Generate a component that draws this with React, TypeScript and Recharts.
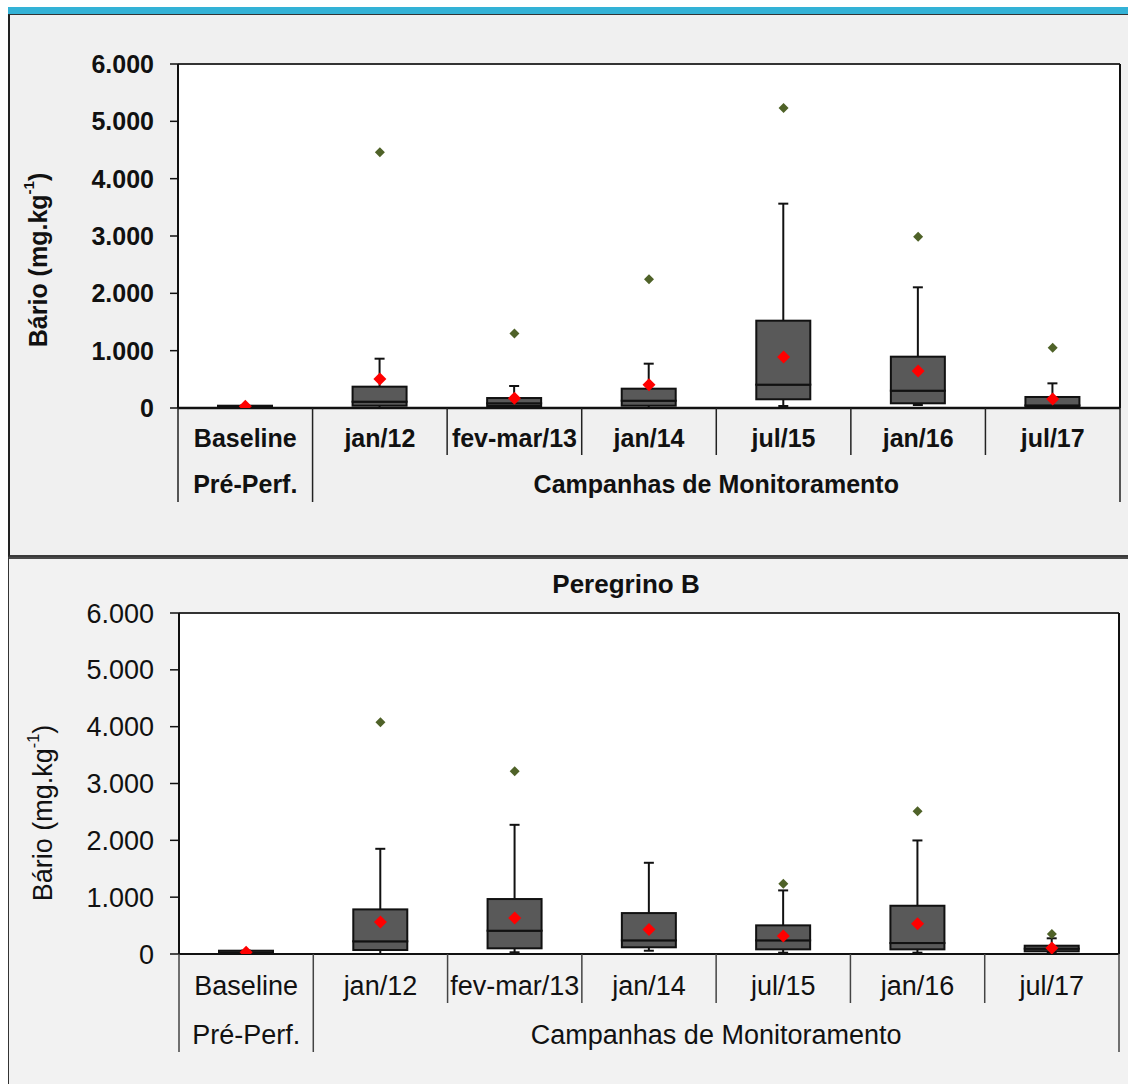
import { ComposedChart, Bar, Scatter, XAxis, YAxis, CartesianGrid } from 'recharts'

const categories = ['Baseline', 'jan/12', 'fev-mar/13', 'jan/14', 'jul/15', 'jan/16', 'jul/17']
const groups = [
  { label: 'Pré-Perf.', from: 0, to: 0 },
  { label: 'Campanhas de Monitoramento', from: 1, to: 6 },
]
const yTicks = [0, 1000, 2000, 3000, 4000, 5000, 6000]
const yTitle = 'Bário (mg.kg'
const yTitleSup = '-1'
const lowerTitle = 'Peregrino B'

// upper panel (mg/kg)
const topMin = [0, 0, 0, 0, 35, 52, 0]
const topQ1 = [5, 40, 35, 40, 152, 82, 15]
const topMedian = [15, 110, 82, 127, 407, 302, 45]
const topQ3 = [40, 372, 174, 337, 1523, 895, 192]
const topMax = [40, 860, 384, 773, 3564, 2105, 430]
const topMean = [30, 506, 169, 407, 890, 645, 157]
const topOutlier = [null, 4460, 1300, 2245, 5233, 2988, 1052]

// lower panel (mg/kg)
const botMin = [0, 0, 30, 58, 23, 23, 20]
const botQ1 = [5, 70, 100, 118, 82, 82, 47]
const botMedian = [20, 223, 410, 240, 240, 193, 93]
const botQ3 = [58, 785, 967, 720, 504, 849, 146]
const botMax = [58, 1851, 2273, 1605, 1119, 1998, 276]
const botMean = [30, 562, 633, 433, 316, 533, 105]
const botOutlier = [null, 4077, 3216, null, 1236, 2513, 351]

const FONT = "'Liberation Sans', Arial, Helvetica, sans-serif"
const BOX_FILL = '#595959'
const INK = '#111'

function buildRows(min: number[], q1: number[], med: number[], q3: number[], max: number[], mean: number[], out: (number | null)[]) {
  return categories.map((cat, i) => ({
    cat,
    base: min[i],
    lowWhisker: q1[i] - min[i],
    lowBox: med[i] - q1[i],
    highBox: q3[i] - med[i],
    highWhisker: max[i] - q3[i],
    mean: mean[i],
    outlier: out[i],
  }))
}

const topRows = buildRows(topMin, topQ1, topMedian, topQ3, topMax, topMean, topOutlier)
const botRows = buildRows(botMin, botQ1, botMedian, botQ3, botMax, botMean, botOutlier)

const fmt = (v: number) => (v === 0 ? '0' : `${v / 1000}.000`)

function WhiskerLow(p: any) {
  const cx = p.x + p.width / 2
  const yb = p.y + p.height
  return (
    <g stroke={INK} strokeWidth={2}>
      <line x1={cx} x2={cx} y1={p.y} y2={yb} />
      <line x1={cx - 5} x2={cx + 5} y1={yb} y2={yb} />
    </g>
  )
}

function WhiskerHigh(p: any) {
  const cx = p.x + p.width / 2
  return (
    <g stroke={INK} strokeWidth={2}>
      <line x1={cx} x2={cx} y1={p.y} y2={p.y + p.height} />
      <line x1={cx - 5} x2={cx + 5} y1={p.y} y2={p.y} />
    </g>
  )
}

function BoxPart(p: any) {
  return <rect x={p.x} y={p.y} width={p.width} height={Math.max(p.height, 0)} fill={BOX_FILL} stroke={INK} strokeWidth={2} />
}

function Diamond({ cx, cy, r, fill, hidden }: any) {
  if (hidden || cx == null || cy == null || isNaN(cy)) return <g />
  return <polygon points={`${cx},${cy - r} ${cx + r},${cy} ${cx},${cy + r} ${cx - r},${cy}`} fill={fill} />
}

function CategoryTick(props: any) {
  const { x, y, index, payload, cfg } = props
  const band = cfg.band
  const left = x - band / 2
  const group = groups.find((g) => g.from === index)
  const last = index === categories.length - 1
  const textProps = { fontFamily: FONT, fontSize: cfg.fontSize, fontWeight: cfg.fontWeight, fill: INK, textAnchor: 'middle' as const }
  return (
    <g>
      <text x={x} y={y + cfg.row1} {...textProps}>{payload.value}</text>
      <line x1={left} x2={left} y1={y} y2={y + (group ? cfg.longLine : cfg.shortLine)} stroke={cfg.divider} strokeWidth={1.5} />
      {last && <line x1={x + band / 2} x2={x + band / 2} y1={y} y2={y + cfg.longLine} stroke={cfg.divider} strokeWidth={1.5} />}
      {group && (
        <text x={left + ((group.to - group.from + 1) * band) / 2} y={y + cfg.row2} {...textProps}>
          {group.label}
        </text>
      )}
    </g>
  )
}

function BoxPanel({ rows, cfg }: any) {
  // the frame axes are 1px wide/tall, so they count in the plot offset
  const plotW = cfg.width - cfg.yAxisWidth - 1 - cfg.margin.left - cfg.margin.right
  const c = { ...cfg, band: plotW / categories.length }
  const tickFont = { fontFamily: FONT, fontSize: cfg.fontSize, fontWeight: cfg.fontWeight, fill: INK }
  return (
    <ComposedChart width={cfg.width} height={cfg.height} data={rows} margin={cfg.margin} barSize={54}>
      <CartesianGrid fill="#fff" horizontal={false} vertical={false} />
      <XAxis
        dataKey="cat"
        interval={0}
        height={100}
        tickSize={0}
        tickMargin={0}
        tickLine={false}
        axisLine={{ stroke: INK, strokeWidth: cfg.axisWidth }}
        tick={(p: any) => <CategoryTick {...p} cfg={c} />}
      />
      <XAxis
        xAxisId="frame"
        dataKey="cat"
        orientation="top"
        height={1}
        tick={false}
        tickLine={false}
        axisLine={{ stroke: '#333', strokeWidth: 2 }}
        label={{
          content: () =>
            cfg.title ? (
              <text x={cfg.title.x} y={cfg.title.y} textAnchor="middle" fontFamily={FONT} fontSize={26} fontWeight="bold" fill={INK}>
                {cfg.title.text}
              </text>
            ) : null,
        }}
      />
      <YAxis
        domain={[0, 6000]}
        ticks={yTicks}
        tickFormatter={fmt}
        width={cfg.yAxisWidth}
        tickSize={cfg.tickSize}
        tickMargin={cfg.tickMargin}
        tickLine={{ stroke: INK, strokeWidth: 1.5 }}
        axisLine={{ stroke: INK, strokeWidth: 2 }}
        tick={tickFont}
        allowDataOverflow
        label={{
          content: () => (
            <text
              transform={`translate(${cfg.yLabel.x},${cfg.yLabel.y}) rotate(-90)`}
              textAnchor="middle"
              dominantBaseline="central"
              fontFamily={FONT}
              fontSize={cfg.fontSize}
              fontWeight={cfg.fontWeight}
              fill={INK}
            >
              {yTitle}
              <tspan dy={-10} fontSize={cfg.fontSize * 0.6}>{yTitleSup}</tspan>
              <tspan dy={10}>)</tspan>
            </text>
          ),
        }}
      />
      <YAxis
        yAxisId="frame"
        orientation="right"
        type="number"
        domain={[0, 6000]}
        width={1}
        tick={false}
        tickLine={false}
        axisLine={{ stroke: INK, strokeWidth: 2 }}
      />
      <Bar dataKey="base" stackId="box" fill="transparent" isAnimationActive={false} />
      <Bar dataKey="lowWhisker" stackId="box" shape={WhiskerLow} isAnimationActive={false} />
      <Bar dataKey="lowBox" stackId="box" shape={BoxPart} isAnimationActive={false} />
      <Bar dataKey="highBox" stackId="box" shape={BoxPart} isAnimationActive={false} />
      <Bar dataKey="highWhisker" stackId="box" shape={WhiskerHigh} isAnimationActive={false} />
      <Scatter
        dataKey="outlier"
        isAnimationActive={false}
        shape={(p: any) => <Diamond cx={p.cx} cy={p.cy} r={5} fill="#4F6228" hidden={p.payload?.outlier == null} />}
      />
      <Scatter
        dataKey="mean"
        isAnimationActive={false}
        shape={(p: any) => <Diamond cx={p.cx} cy={p.cy} r={6.5} fill="#FF0000" />}
      />
    </ComposedChart>
  )
}

const topCfg = {
  width: 1128,
  height: 556,
  margin: { top: 63, right: 7, bottom: 48, left: 0 },
  yAxisWidth: 178,
  fontSize: 25,
  fontWeight: 'bold',
  tickSize: 8,
  tickMargin: 16,
  row1: 39,
  row2: 85,
  shortLine: 47,
  longLine: 94,
  axisWidth: 2.5,
  divider: '#222',
  yLabel: { x: 38, y: 260 },
  title: null,
}

const botCfg = {
  width: 1128,
  height: 527,
  margin: { top: 55, right: 8, bottom: 30, left: 0 },
  yAxisWidth: 179,
  fontSize: 27,
  fontWeight: 'normal',
  tickSize: 9,
  tickMargin: 16,
  row1: 41,
  row2: 90,
  shortLine: 49,
  longLine: 98,
  axisWidth: 2,
  divider: '#444',
  yLabel: { x: 43, y: 256 },
  title: { text: lowerTitle, x: 626, y: 36 },
}

export default function App() {
  return (
    <div style={{ position: 'absolute', left: 0, top: 0, width: 1128, height: 1084, background: '#fff', overflow: 'hidden' }}>
      <div style={{ position: 'absolute', left: 8, top: 7, width: 1120, height: 8, background: '#33B2D6' }} />
      <div
        style={{
          position: 'absolute',
          left: 8,
          top: 14,
          width: 1130,
          height: 543,
          boxSizing: 'border-box',
          background: '#F0F0F0',
          borderTop: '1.5px solid #333',
          borderLeft: '2px solid #222',
          borderBottom: '2px solid #3a3a3a',
        }}
      />
      <div
        style={{
          position: 'absolute',
          left: 8,
          top: 557,
          width: 1130,
          height: 540,
          boxSizing: 'border-box',
          background: '#F2F2F2',
          borderTop: '2px solid #484848',
          borderLeft: '1px solid #333',
        }}
      />
      <div style={{ position: 'absolute', left: 0, top: 0 }}>
        <BoxPanel rows={topRows} cfg={topCfg} />
      </div>
      <div style={{ position: 'absolute', left: 0, top: 557 }}>
        <BoxPanel rows={botRows} cfg={botCfg} />
      </div>
    </div>
  )
}
